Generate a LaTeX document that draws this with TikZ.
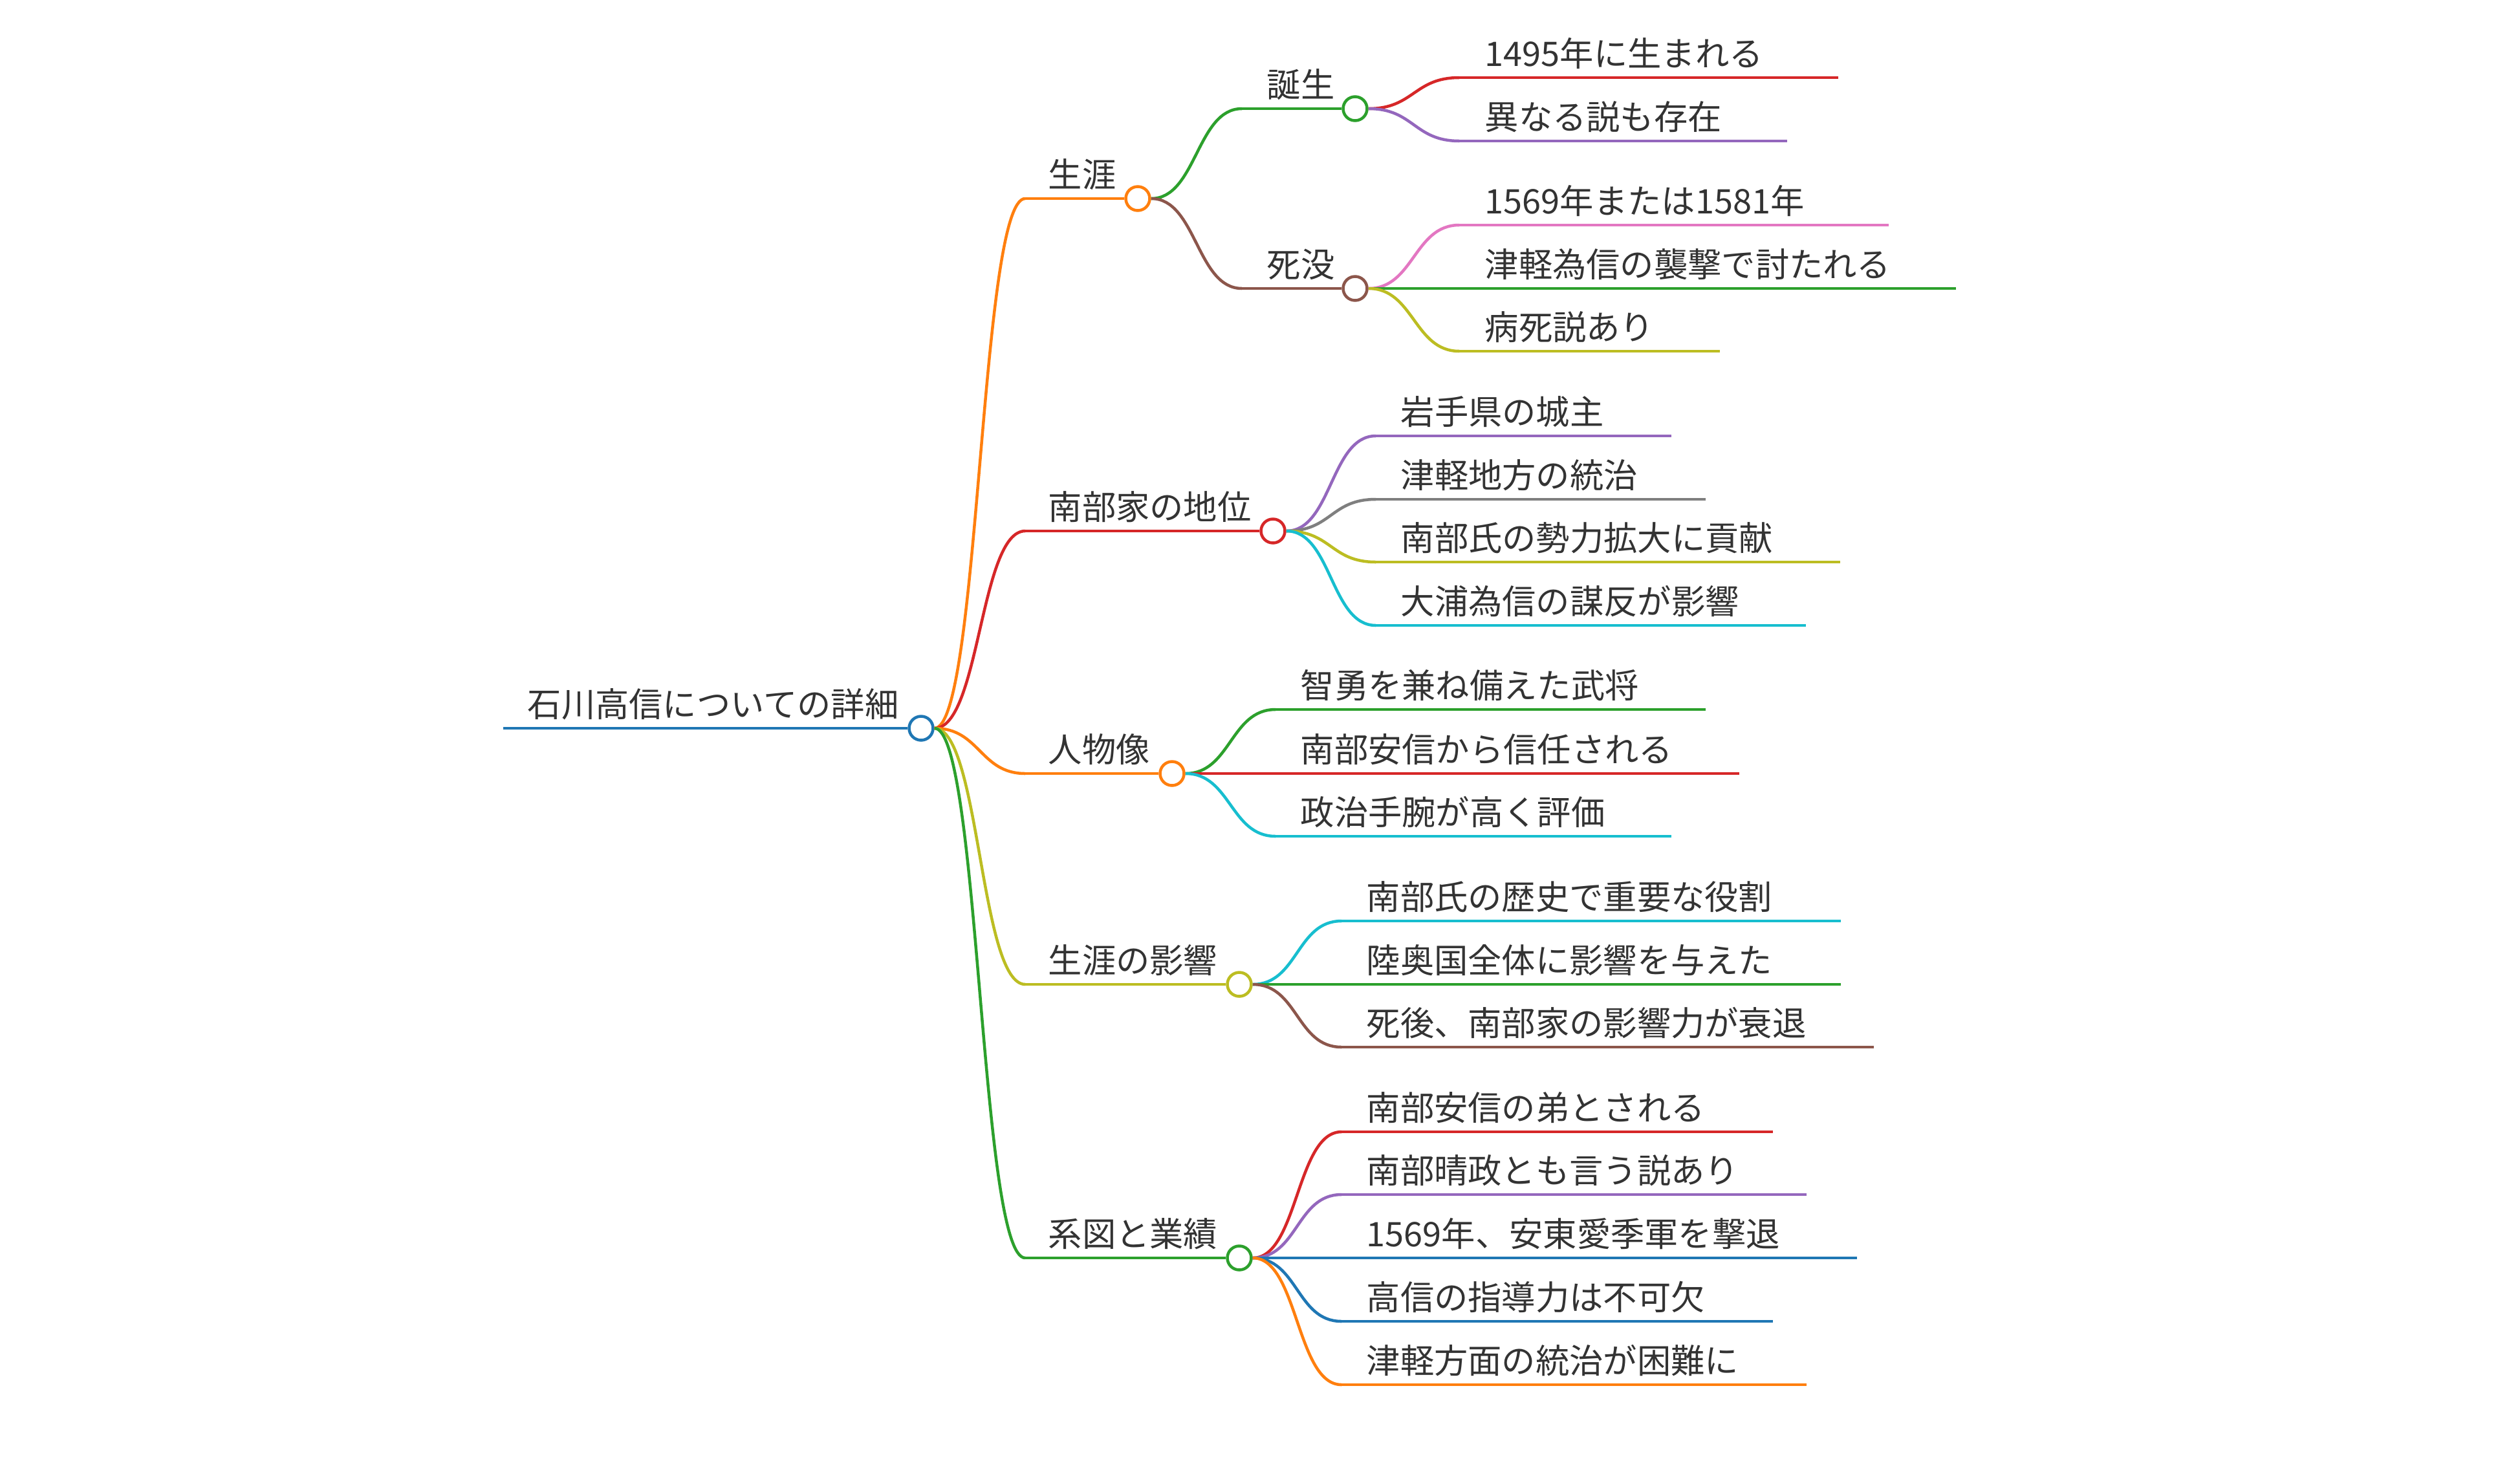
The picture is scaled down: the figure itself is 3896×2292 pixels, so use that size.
\documentclass[tikz,border=0pt]{standalone}
\usepackage{fontspec}
\newfontfamily\jpfont{Noto Sans CJK JP}
\definecolor{txt}{HTML}{333333}
\definecolor{cblue}{HTML}{1F77B4}
\definecolor{corange}{HTML}{FF7F0E}
\definecolor{cgreen}{HTML}{2CA02C}
\definecolor{cred}{HTML}{D62728}
\definecolor{cpurple}{HTML}{9467BD}
\definecolor{cbrown}{HTML}{8C564B}
\definecolor{cpink}{HTML}{E377C2}
\definecolor{cgray}{HTML}{7F7F7F}
\definecolor{colive}{HTML}{BCBD22}
\definecolor{ccyan}{HTML}{17BECF}
\tikzset{
  lbl/.style={anchor=base west, inner sep=0pt, text=txt, font=\jpfont\fontsize{13.07pt}{15pt}\selectfont},
  dot/.style={circle, draw=#1, fill=white, line width=1.125pt, minimum size=9.25pt, inner sep=0pt},
  br/.style={draw=#1, line width=1.125pt},
}
% #1 name, #2 colour, #3 parent circle, #4 line start x, #5 y, #6 circle x, #7 text x, #8 text
\newcommand\branchnode[8]{%
  \coordinate (#1-s) at (#4,#5);
  \node[dot=#2] (#1-c) at (#6,#5) {};
  \node[lbl] (#1-t) at (#7,#5-18) {#8};
  \draw[br=#2] (#1-s) -- (#1-c.west);
  \draw[br=#2] (#3.east) .. controls +(70,0) and +(-70,0) .. (#1-s);
}
% #1 name, #2 colour, #3 parent circle, #4 line start x, #5 y, #6 line end x, #7 text x, #8 text
\newcommand\leafnode[8]{%
  \coordinate (#1-s) at (#4,#5);
  \coordinate (#1-e) at (#6,#5);
  \node[lbl] (#1-t) at (#7,#5-18) {#8};
  \draw[br=#2] (#1-s) -- (#1-e);
  \draw[br=#2] (#3.east) .. controls +(70,0) and +(-70,0) .. (#1-s);
}
\begin{document}
\begin{tikzpicture}[x=0.25pt,y=-0.25pt]
\useasboundingbox[fill=white] (0,0) rectangle (3896,2292);
% root
\coordinate (root-s) at (778,1126);
\node[dot=cblue] (root-c) at (1424,1126) {};
\node[lbl] (root-t) at (815,1108) {石川高信についての詳細};
\draw[br=cblue] (root-s) -- (root-c.west);
% 生涯
\branchnode{A}{corange}{root-c}{1585}{307}{1759}{1620}{生涯}
\branchnode{A1}{cgreen}{A-c}{1920}{168}{2095}{1958}{誕生}
\leafnode{A1L1}{cred}{A1-c}{2256}{120}{2842}{2295}{1495年に生まれる}
\leafnode{A1L2}{cpurple}{A1-c}{2256}{218}{2763}{2295}{異なる説も存在}
\branchnode{A2}{cbrown}{A-c}{1920}{446}{2095}{1958}{死没}
\leafnode{A2L1}{cpink}{A2-c}{2256}{348}{2920}{2295}{1569年または1581年}
\leafnode{A2L2}{cgreen}{A2-c}{2256}{446}{3024}{2295}{津軽為信の襲撃で討たれる}
\leafnode{A2L3}{colive}{A2-c}{2256}{543}{2659}{2295}{病死説あり}
% 南部家の地位
\branchnode{B}{cred}{root-c}{1585}{821}{1968}{1620}{南部家の地位}
\leafnode{BL1}{cpurple}{B-c}{2127}{674}{2584}{2165}{岩手県の城主}
\leafnode{BL2}{cgray}{B-c}{2127}{772}{2637}{2165}{津軽地方の統治}
\leafnode{BL3}{colive}{B-c}{2127}{869}{2845}{2165}{南部氏の勢力拡大に貢献}
\leafnode{BL4}{ccyan}{B-c}{2127}{967}{2792}{2165}{大浦為信の謀反が影響}
% 人物像
\branchnode{C}{corange}{root-c}{1585}{1196}{1812}{1620}{人物像}
\leafnode{CL1}{cgreen}{C-c}{1972}{1097}{2637}{2010}{智勇を兼ね備えた武将}
\leafnode{CL2}{cred}{C-c}{1972}{1196}{2689}{2010}{南部安信から信任される}
\leafnode{CL3}{ccyan}{C-c}{1972}{1293}{2584}{2010}{政治手腕が高く評価}
% 生涯の影響
\branchnode{D}{colive}{root-c}{1585}{1522}{1916}{1620}{生涯の影響}
\leafnode{DL1}{ccyan}{D-c}{2074}{1424}{2846}{2112}{南部氏の歴史で重要な役割}
\leafnode{DL2}{cgreen}{D-c}{2074}{1522}{2846}{2112}{陸奥国全体に影響を与えた}
\leafnode{DL3}{cbrown}{D-c}{2074}{1619}{2897}{2112}{死後、南部家の影響力が衰退}
% 系図と業績
\branchnode{E}{cgreen}{root-c}{1585}{1945}{1916}{1620}{系図と業績}
\leafnode{EL1}{cred}{E-c}{2074}{1750}{2741}{2112}{南部安信の弟とされる}
\leafnode{EL2}{cpurple}{E-c}{2074}{1847}{2793}{2112}{南部晴政とも言う説あり}
\leafnode{EL3}{cblue}{E-c}{2074}{1945}{2871}{2112}{1569年、安東愛季軍を撃退}
\leafnode{EL4}{cblue}{E-c}{2074}{2043}{2741}{2112}{高信の指導力は不可欠}
\leafnode{EL5}{corange}{E-c}{2074}{2141}{2793}{2112}{津軽方面の統治が困難に}
\end{tikzpicture}
\end{document}
